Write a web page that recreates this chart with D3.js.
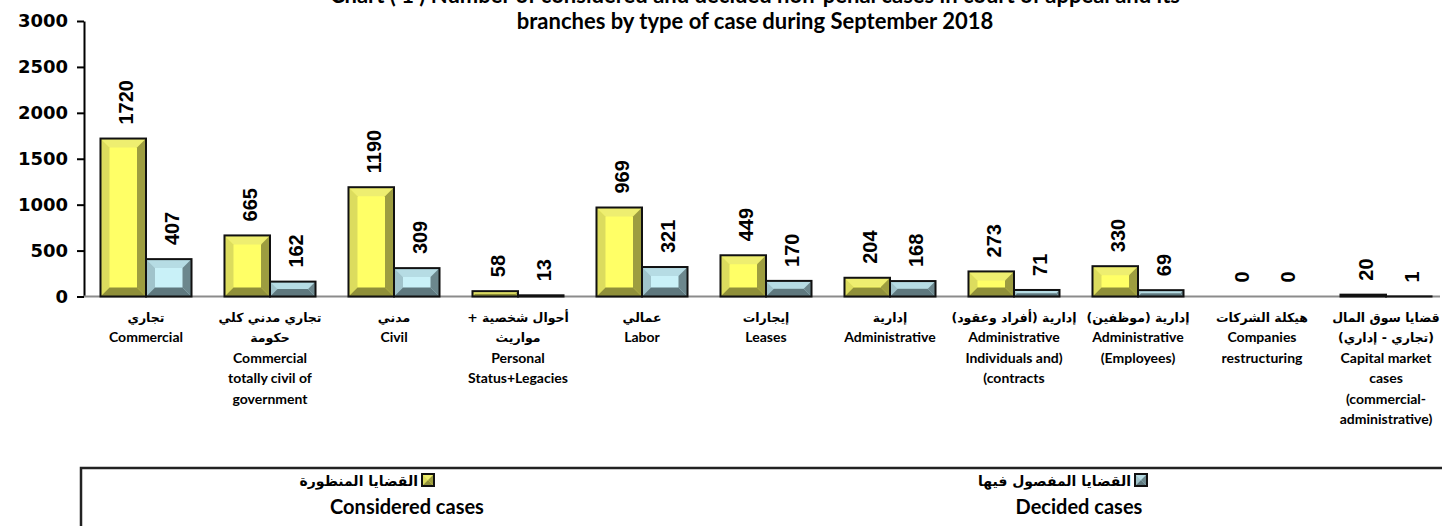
<!DOCTYPE html>
<html>
<head>
<meta charset="utf-8">
<script src="https://cdn.jsdelivr.net/npm/d3@7"></script>
<style>
  body { margin: 0; background: #fff; overflow: hidden; }
  svg { display: block; }
  .lat { font-family: Lato, "DejaVu Sans", sans-serif; font-weight: bold; }
  .ar { font-family: "DejaVu Sans", sans-serif; font-weight: bold; }
  .ytick text { font-family: "DejaVu Sans", sans-serif; font-weight: bold; font-size: 18px; }
  .val { font-family: "Liberation Sans", Arial, sans-serif; font-weight: bold; font-size: 20px; }
</style>
</head>
<body>
<div id="chart"></div>
<script>
var titleLines = [
  "Chart ( 1 ) Number of considered and decided non-penal cases in court of appeal and its",
  "branches by type of case during September 2018"
];

var labelsAr = [
  ["تجاري"],
  ["تجاري مدني كلي", "حكومة"],
  ["مدني"],
  ["أحوال شخصية +", "مواريث"],
  ["عمالي"],
  ["إيجارات"],
  ["إدارية"],
  ["إدارية (أفراد وعقود)"],
  ["إدارية (موظفين)"],
  ["هيكلة الشركات"],
  ["قضايا سوق المال", "(تجاري - إداري)"]
];

var labelsEn = [
  ["Commercial"],
  ["Commercial", "totally civil of", "government"],
  ["Civil"],
  ["Personal", "Status+Legacies"],
  ["Labor"],
  ["Leases"],
  ["Administrative"],
  ["Administrative", "Individuals and)", "(contracts"],
  ["Administrative", "(Employees)"],
  ["Companies", "restructuring"],
  ["Capital market", "cases", "(commercial-", "administrative)"]
];

var considered = [1720, 665, 1190, 58, 969, 449, 204, 273, 330, 0, 20];
var decided = [407, 162, 309, 13, 321, 170, 168, 71, 69, 0, 1];

var yTicks = [0, 500, 1000, 1500, 2000, 2500, 3000];

var seriesKeys = ["considered", "decided"];
var legendAr = ["القضايا المنظورة", "القضايا المفصول فيها"];
var legendEn = ["Considered cases", "Decided cases"];

var width = 1442, height = 526;

// bevel colours: center, top, left, right, bottom
var bevel = {
  considered: ["#FFFF66", "#EEEE70", "#DCDC5E", "#9D9D40", "#8F8F3A"],
  decided: ["#C9F1F8", "#B6DCE4", "#A0C3CB", "#6C878D", "#5F787E"]
};

var svg = d3.select("#chart").append("svg")
    .attr("width", width)
    .attr("height", height);

var idx = d3.range(considered.length);

var x = d3.scaleBand()
    .domain(idx)
    .range([84, 1448])
    .paddingInner(0.266)
    .paddingOuter(0.133);

var x1 = d3.scaleBand()
    .domain(seriesKeys)
    .range([0, x.bandwidth()]);

var y = d3.scaleLinear()
    .domain([0, 3000])
    .range([296.5, 21]);

// title (first line runs off the top like the source)
svg.append("g").selectAll("text")
  .data(titleLines)
  .join("text")
    .attr("class", "lat")
    .attr("x", 755)
    .attr("y", function(d, i) { return 3 + i * 26; })
    .attr("text-anchor", "middle")
    .attr("font-size", "22px")
    .text(function(d) { return d; });

// y axis
var yAxis = svg.append("g")
    .attr("class", "ytick")
    .attr("transform", "translate(84,0)")
    .call(d3.axisLeft(y).tickValues(yTicks).tickFormat(d3.format("d"))
      .tickSize(7).tickPadding(9).tickSizeOuter(0));
yAxis.select(".domain").attr("stroke", "#000").attr("stroke-width", 2);
yAxis.selectAll(".tick line").attr("stroke", "#000").attr("stroke-width", 2);

// bevelled bar
function bevelBar(g, bx, by, bw, bh, c) {
  var b = Math.min(9, bh / 2, bw / 2);
  var pts = [
    [[bx, by], [bx + bw, by], [bx + bw - b, by + b], [bx + b, by + b]],
    [[bx, by], [bx + b, by + b], [bx + b, by + bh - b], [bx, by + bh]],
    [[bx + bw, by], [bx + bw, by + bh], [bx + bw - b, by + bh - b], [bx + bw - b, by + b]],
    [[bx, by + bh], [bx + b, by + bh - b], [bx + bw - b, by + bh - b], [bx + bw, by + bh]]
  ];
  g.append("rect")
      .attr("x", bx).attr("y", by).attr("width", bw).attr("height", bh)
      .attr("fill", c[0]);
  pts.forEach(function(p, i) {
    g.append("polygon")
        .attr("points", p.map(function(q) { return q.join(","); }).join(" "))
        .attr("fill", c[i + 1]);
  });
  g.append("rect")
      .attr("x", bx).attr("y", by).attr("width", bw).attr("height", bh)
      .attr("fill", "none")
      .attr("stroke", "#111")
      .attr("stroke-width", 2);
}

// baseline
svg.append("line")
    .attr("x1", 84).attr("x2", 1440)
    .attr("y1", y(0)).attr("y2", y(0))
    .attr("stroke", "#8c8c8c")
    .attr("stroke-width", 2);

var values = { considered: considered, decided: decided };
var bars = svg.append("g");
idx.forEach(function(i) {
  seriesKeys.forEach(function(k) {
    var v = values[k][i];
    var bx = x(i) + x1(k);
    if (v > 0) {
      bevelBar(bars, bx, y(v), x1.bandwidth(), y(0) - y(v), bevel[k]);
    }
    bars.append("text")
        .attr("class", "val")
        .attr("transform", "translate(" + (bx + x1.bandwidth() / 2 + 3) + "," + (y(v) - 14) + ") rotate(-90)")
        .attr("dominant-baseline", "central")
        .text(v);
  });
});

// category labels
var cat = svg.append("g").selectAll("g")
  .data(idx)
  .join("g")
    .attr("transform", function(i) { return "translate(" + (x(i) + x.bandwidth() / 2) + ",0)"; });

cat.each(function(i) {
  var g = d3.select(this);
  var lines = labelsAr[i].map(function(t) { return { t: t, ar: true }; })
      .concat(labelsEn[i].map(function(t) { return { t: t, ar: false }; }));
  g.selectAll("text")
    .data(lines)
    .join("text")
      .attr("class", function(d) { return d.ar ? "ar" : "lat"; })
      .attr("direction", function(d) { return d.ar ? "rtl" : "ltr"; })
      .attr("text-anchor", "middle")
      .attr("font-size", function(d) { return d.ar ? "12.5px" : "14px"; })
      .attr("y", function(d, j) { return 322 + j * 20.4; })
      .text(function(d) { return d.t; });
});

// legend
svg.append("rect")
    .attr("x", 81).attr("y", 468)
    .attr("width", 1500).attr("height", 120)
    .attr("fill", "none")
    .attr("stroke", "#222")
    .attr("stroke-width", 2.5);

var legendX = [420, 1133];
var leg = svg.append("g").selectAll("g")
  .data(seriesKeys)
  .join("g")
    .attr("transform", function(d, i) { return "translate(" + legendX[i] + ",0)"; });

leg.each(function(k, i) {
  var g = d3.select(this);
  bevelBar(g, 2, 474, 12, 12, bevel[k]);
  g.append("text")
      .attr("class", "ar")
      .attr("direction", "rtl")
      .attr("x", -2).attr("y", 486)
      .attr("font-size", "14px")
      .text(legendAr[i]);
  g.append("text")
      .attr("class", "lat")
      .attr("x", i === 0 ? -13 : -54).attr("y", 514)
      .attr("text-anchor", "middle")
      .attr("font-size", "20px")
      .text(legendEn[i]);
});
</script>
</body>
</html>
